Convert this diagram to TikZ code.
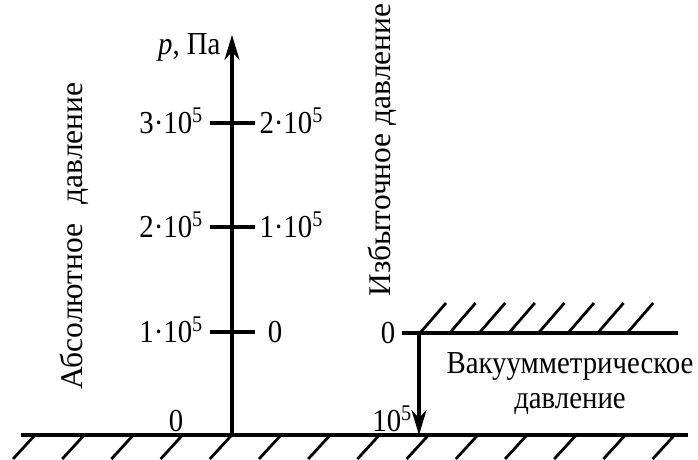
\documentclass[tikz,border=0pt]{standalone}
\usepackage{fontspec}
\setmainfont{Liberation Serif}[FakeStretch=0.9]
\newfontfamily\capfont{Liberation Serif}
\usepackage{tikz}
\usetikzlibrary{arrows.meta}
\tikzset{
  axisline/.style={line width=1.3pt, black},
  hatch/.style={line width=1.1pt, black},
  tickmark/.style={line width=1.5pt, black},
  lbl/.style={font=\fontsize{12.8}{14}\selectfont, inner sep=0pt},
  vcap/.style={font=\capfont\fontsize{12.6}{14}\selectfont, inner sep=0pt, rotate=90, anchor=base},
  arrow/.style={-{Stealth[length=10pt, width=6pt]}, line width=1.3pt, black}
}
\newcommand{\tenp}[1]{10\textsuperscript{#1}}

\begin{document}
\begin{tikzpicture}[x=0.4pt, y=-0.4pt]
  \useasboundingbox (0,0) rectangle (698,459);

  % Ground
  \coordinate (gl) at (21,435);
  \coordinate (gr) at (688,435);
  \draw[axisline] (gl) -- (gr);
  \foreach \i in {0,...,13}
    \draw[hatch] ({35+49.2*\i},435) -- ++(-22,24);

  % Pressure axis
  \coordinate (base) at (232,435);
  \coordinate (top) at (232,35);
  \draw[arrow] (base) -- (top);
  \foreach \y in {332,227,123}
    \draw[tickmark] (210,\y) -- (255,\y);
  \node[lbl, anchor=base east] (unit) at (221,55) {\textit{p}, Па};

  % Absolute scale (left)
  \node[lbl, anchor=base] (a0) at (176,431) {0};
  \node[lbl, anchor=base east] (a1) at (204,342) {1·\tenp{5}};
  \node[lbl, anchor=base east] (a2) at (204,237) {2·\tenp{5}};
  \node[lbl, anchor=base east] (a3) at (204,133) {3·\tenp{5}};

  % Gauge scale (right)
  \node[lbl, anchor=base] (e0) at (275,342) {0};
  \node[lbl, anchor=base west] (e1) at (259,237) {1·\tenp{5}};
  \node[lbl, anchor=base west] (e2) at (259,133) {2·\tenp{5}};

  % Vertical captions
  \node[vcap] (abscap) at (82,236) {Абсолютное\hspace{0.6em}давление};
  \node[vcap] (exccap) at (390,150) {Избыточное давление};

  % Atmospheric level
  \coordinate (zl) at (402,333);
  \coordinate (zr) at (678,333);
  \draw[axisline] (zl) -- (zr);
  \foreach \i in {0,...,7}
    \draw[hatch] ({420+29.6*\i},333) -- ++(26,-30);
  \node[lbl, anchor=base] (z0) at (388,343) {0};

  % Vacuum
  \coordinate (vtop) at (419,333);
  \coordinate (vbot) at (419,435);
  \draw[arrow] (vtop) -- (vbot);
  \node[lbl, anchor=base east] (v5) at (413,431) {\tenp{5}};
  \node[lbl, align=center, anchor=north] (vaccap) at (570,352) {Вакуумметрическое\\давление};
\end{tikzpicture}
\end{document}
